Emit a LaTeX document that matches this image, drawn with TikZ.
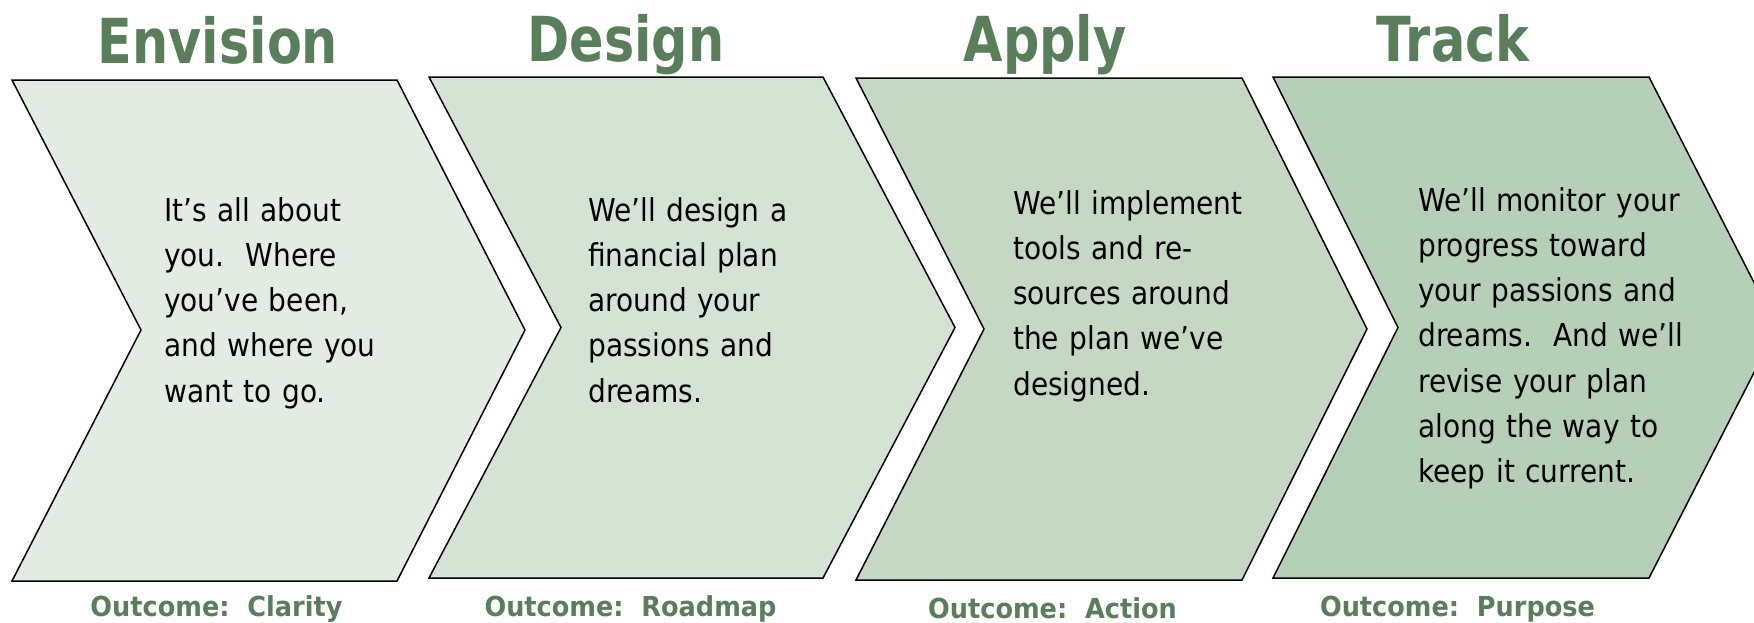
\documentclass[tikz,border=0pt]{standalone}
\usepackage{fontspec}
\newfontfamily\titlefont[FakeStretch=0.82]{DejaVu Sans}
\newfontfamily\bodyfont[FakeStretch=0.89]{DejaVu Sans}
\newfontfamily\outfont[FakeStretch=0.93]{DejaVu Sans}
\definecolor{ttl}{HTML}{587E5A}
\definecolor{fillA}{HTML}{E2ECE2}
\definecolor{fillB}{HTML}{D5E3D5}
\definecolor{fillC}{HTML}{C4D8C4}
\definecolor{fillD}{HTML}{B5D0B6}
\begin{document}
\begin{tikzpicture}[x=1pt,y=-1pt,
  chev/.style={draw=black, line width=1.5pt, line join=miter},
  ttlnode/.style={anchor=base, inner sep=0pt, text=ttl, font=\titlefont\bfseries\fontsize{62}{62}\selectfont},
  body/.style={anchor=base west, inner sep=0pt, text width=330pt, align=left, font=\bodyfont\fontsize{31.5}{45.3}\selectfont},
  outc/.style={anchor=base, inner sep=0pt, text=ttl, font=\outfont\bfseries\fontsize{27.5}{27.5}\selectfont}]
\useasboundingbox (0,0) rectangle (1754,622);
\clip (0,0) rectangle (1754,622);
\fill[white] (0,0) rectangle (1754,622);

% chevrons
\draw[chev, fill=fillA] (12,80) -- (397,80) -- (525,330) -- (397,581) -- (12,581) -- (141,330) -- cycle;
\draw[chev, fill=fillB] (429,77) -- (823,77) -- (955,327.5) -- (823,578) -- (429,578) -- (561,327.5) -- cycle;
\draw[chev, fill=fillC] (856,78) -- (1242,78) -- (1367,329) -- (1242,580) -- (856,580) -- (984,329) -- cycle;
\draw[chev, fill=fillD] (1273,77) -- (1649,77) -- (1777,327.5) -- (1649,578) -- (1273,578) -- (1398,327.5) -- cycle;

% titles
\node[ttlnode] (t1) at (218,63) {Envision};
\node[ttlnode] (t2) at (626,61) {Design};
\node[ttlnode] (t3) at (1045,61) {Apply};
\node[ttlnode] (t4) at (1453,61) {Track};

% body texts
\node[body] (b1) at (164,221) {It’s all about\\you.\ \ Where\\you’ve been,\\and where you\\want to go.};
\node[body] (b2) at (588,221) {We’ll design a\\financial plan\\around your\\passions and\\dreams.};
\node[body] (b3) at (1013,214) {We’ll implement\\tools and re-\\sources around\\the plan we’ve\\designed.};
\node[body] (b4) at (1418,211) {We’ll monitor your\\progress toward\\your passions and\\dreams.\ \ And we’ll\\revise your plan\\along the way to\\keep it current.};

% outcomes
\node[outc] (o1) at (216.5,616) {Outcome:\ \ Clarity};
\node[outc] (o2) at (630.5,616) {Outcome:\ \ Roadmap};
\node[outc] (o3) at (1052.5,618) {Outcome:\ \ Action};
\node[outc] (o4) at (1457.5,616) {Outcome:\ \ Purpose};
\end{tikzpicture}
\end{document}
